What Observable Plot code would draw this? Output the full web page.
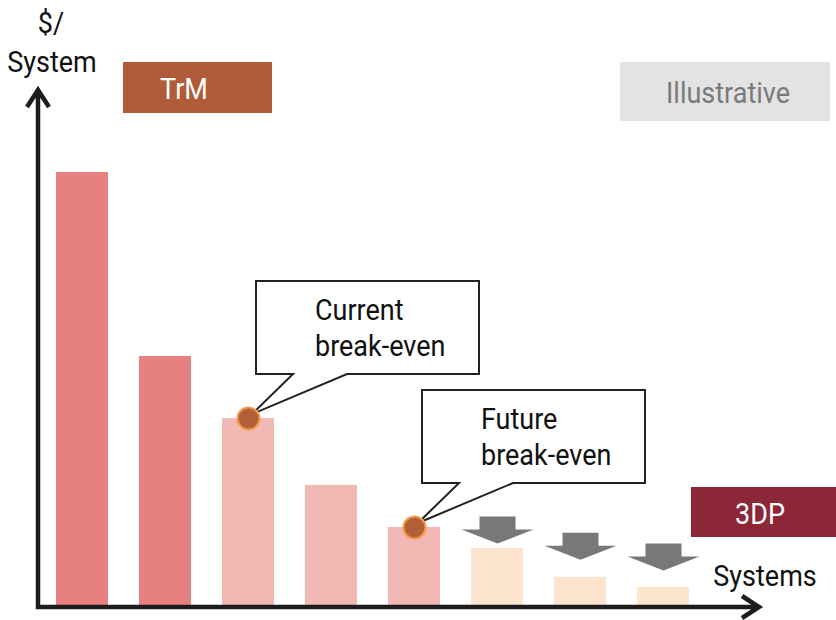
<!DOCTYPE html>
<html>
<head>
<meta charset="utf-8">
<script src="https://cdn.jsdelivr.net/npm/d3@7"></script>
<script src="https://cdn.jsdelivr.net/npm/@observablehq/plot@0.6"></script>
<style>
  html, body { margin: 0; padding: 0; background: #fff; }
  #chart svg { display: block; }
</style>
</head>
<body>
<div id="chart"></div>
<script>
// ---- Data (illustrative units, first bar = 100) ----
const systems = ["1", "2", "3", "4", "5", "6", "7", "8"];
const costPerSystem = [100, 57.6, 43.3, 27.9, 18.2, 13.4, 6.7, 4.4];
const barTone = ["early", "early", "current", "current", "current", "future", "future", "future"];
const toneNames = ["early", "current", "future"];
const toneColors = ["#e6817f", "#f2b8b4", "#fde4cc"];

// downward "cost reduction" arrows over the 3DP bars (tip level, same units)
const arrowSystems = ["6", "7", "8"];
const arrowTips = [14.5, 10.8, 8.3];

// break-even callouts
const calloutSystems = ["3", "5"];
const calloutLabels = [["Current", "break-even"], ["Future", "break-even"]];

// labels
const yAxisLabel = ["$/", "System"];
const xAxisLabel = "Systems";
const tagTrM = "TrM";
const tag3DP = "3DP";
const tagIllustrative = "Illustrative";

const FONT = "Roboto, 'Liberation Sans', sans-serif";
const SQUEEZE = 0.9; // horizontal condensing of the label font

const bars = systems.map((s, i) => ({system: s, cost: costPerSystem[i], tone: barTone[i]}));
const arrows = arrowSystems.map((s, i) => ({system: s, tip: arrowTips[i]}));
const callouts = calloutSystems.map((s, i) => ({system: s, cost: costPerSystem[systems.indexOf(s)], lines: calloutLabels[i]}));

// block arrow pointing down, tip at origin
const blockArrow = {
  draw(ctx) {
    ctx.moveTo(-18, -27);
    ctx.lineTo(18, -27);
    ctx.lineTo(18, -14);
    ctx.lineTo(36, -14);
    ctx.lineTo(0, 0);
    ctx.lineTo(-36, -14);
    ctx.lineTo(-18, -14);
    ctx.closePath();
  }
};

function bandCenter(x, v) {
  const bw = typeof x.bandwidth === "function" ? x.bandwidth() : 0;
  return x(v) + bw / 2;
}

function addText(g, x, y, s, {size = 30, fill = "#111", anchor = "start"} = {}) {
  g.append("text")
    .attr("transform", `translate(${x},${y}) scale(${SQUEEZE},1)`)
    .attr("font-family", FONT)
    .attr("font-size", size)
    .attr("fill", fill)
    .attr("text-anchor", anchor)
    .text(s);
}

// callout bubbles (drawn relative to the bar-top anchor)
function calloutMark(index, scales) {
  const g = d3.create("svg:g");
  for (const c of callouts) {
    const ax = bandCenter(scales.x, c.system);
    const ay = scales.y(c.cost);
    const L = ax + 8, R = ax + 231, T = ay - 137, B = ay - 44;
    const t1 = ax + 45, t2 = ax + 99;
    g.append("path")
      .attr("d", `M${L},${T}H${R}V${B}H${t2}L${ax + 4},${ay - 4}L${t1},${B}H${L}Z`)
      .attr("fill", "#fff")
      .attr("stroke", "#222")
      .attr("stroke-width", 2)
      .attr("stroke-linejoin", "miter");
    c.lines.forEach((line, k) => addText(g, ax + 67, ay - 98 + k * 36, line));
  }
  return g.node();
}

// axes with open arrowheads, axis titles and phase tags
function frameMark(index, scales) {
  const g = d3.create("svg:g");
  const x0 = scales.x.range ? scales.x.range()[0] - 1 : 38;
  const y0 = scales.y(0) + 1;
  g.append("path")
    .attr("d", `M${x0},${y0 + 2}V90M${x0 - 11},107L${x0},90L${x0 + 11},107`)
    .attr("fill", "none").attr("stroke", "#1c1c1c").attr("stroke-width", 4.5);
  g.append("path")
    .attr("d", `M${x0 - 2},${y0}H759M742,${y0 - 11}L759,${y0}L742,${y0 + 11}`)
    .attr("fill", "none").attr("stroke", "#1c1c1c").attr("stroke-width", 4.5);

  addText(g, 51, 33, yAxisLabel[0], {anchor: "middle"});
  addText(g, 52, 72, yAxisLabel[1], {anchor: "middle"});
  addText(g, 765, 586, xAxisLabel, {anchor: "middle"});

  g.append("rect").attr("x", 123).attr("y", 62).attr("width", 149).attr("height", 51).attr("fill", "#b05c38");
  addText(g, 184, 99, tagTrM, {fill: "#fff", anchor: "middle"});
  g.append("rect").attr("x", 620).attr("y", 62).attr("width", 210).attr("height", 59).attr("fill", "#e3e3e3");
  addText(g, 728, 103, tagIllustrative, {fill: "#7a7a7a", anchor: "middle"});
  g.append("rect").attr("x", 691).attr("y", 487).attr("width", 150).attr("height", 50).attr("fill", "#8b2736");
  addText(g, 760, 524, tag3DP, {fill: "#fff", anchor: "middle"});
  return g.node();
}

const chart = Plot.plot({
  width: 836,
  height: 620,
  margin: 0,
  style: {fontFamily: FONT, background: "#fff"},
  x: {domain: systems, range: [39, 706], paddingInner: 0.376, paddingOuter: 0.188, axis: null},
  y: {domain: [0, 100], range: [606, 172], axis: null},
  color: {domain: toneNames, range: toneColors},
  marks: [
    Plot.barY(bars, {x: "system", y: "cost", fill: "tone"}),
    Plot.dot(arrows, {x: "system", y: "tip", symbol: blockArrow, r: 10, fill: "#787878", stroke: null}),
    calloutMark,
    Plot.dot(callouts, {x: "system", y: "cost", r: 11, fill: "#b35f37", stroke: "#f29a4a", strokeWidth: 2}),
    frameMark
  ]
});

document.getElementById("chart").appendChild(chart);
</script>
</body>
</html>
